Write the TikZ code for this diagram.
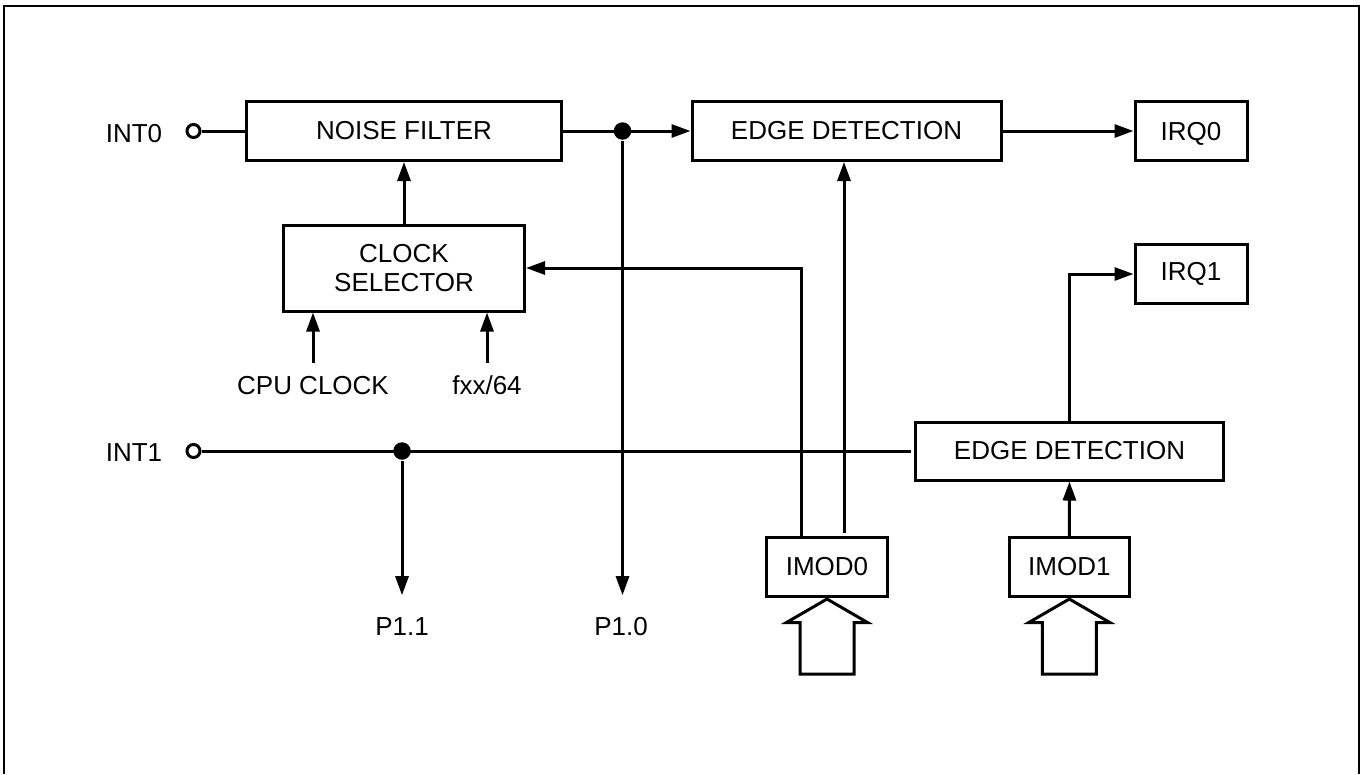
\documentclass[tikz,border=0pt]{standalone}
\usepackage{fontspec}
\setmainfont{Liberation Sans}
\usetikzlibrary{arrows.meta, calc}

\begin{document}
\begin{tikzpicture}[
    x=1pt, y=-1pt, line width=3pt,
    every node/.style={font=\fontsize{26}{29}\selectfont},
    box/.style={draw, minimum width=#1, minimum height=59pt, inner sep=0pt, align=center},
    term/.style={draw, circle, minimum size=13pt, inner sep=0pt, fill=white},
    junct/.style={circle, fill, minimum size=17.5pt, inner sep=0pt},
    arr/.style={-{Triangle[length=19pt, width=13pt]}},
    lbl/.style={text height=18.6pt, text depth=0pt, inner sep=#1},
    lbl/.default=0pt,
    frame/.style={line width=2pt}
  ]
  \useasboundingbox (0,0) rectangle (1362,774);
  \draw[frame] (4,774) |- (1359,6) -- (1359,774);
  % blocks
  \node[box=314.5pt] (noise) at (404,131) {NOISE FILTER};
  \node[box=309pt] (edge0) at (846.5,131) {EDGE DETECTION};
  \node[box=112pt, text depth=0pt] (irq0) at (1191,131) {IRQ0};
  \node[box=241pt, minimum height=86pt] (clock) at (404,268) {CLOCK\\SELECTOR};
  \node[box=112pt, minimum height=58.5pt] (irq1) at (1191,274) {IRQ1};
  \node[box=308pt, minimum height=58pt] (edge1) at (1069.5,451) {EDGE DETECTION};
  \node[box=121pt] (imod0) at (827,567) {IMOD0};
  \node[box=120pt] (imod1) at (1069.3,567) {IMOD1};
  % pins and junctions
  \node[term] (in0) at (193.5,131) {};
  \node[term] (in1) at (193.5,451) {};
  \node[junct] (dot0) at (622.5,131) {};
  \node[junct] (dot1) at (402,451) {};
  % labels
  \node[lbl] (int0) at (134,133) {INT0};
  \node[lbl] (int1) at (134,452) {INT1};
  \node[lbl=20pt] (p11) at (402,626) {P1.1};
  \node[lbl=20pt] (p10) at (621,626) {P1.0};
  \node[lbl=11.7pt] (cpu) at (313,385) {CPU CLOCK};
  \node[lbl=11.7pt] (fxx) at (487,385) {fxx/64};
  \coordinate (m0a) at ($(imod0.north)+(-26,0)$);
  \coordinate (m0b) at ($(imod0.north)+(17,-3)$);
  \coordinate (e1in) at ($(edge1.west)+(-3,0)$);
  % connections
  \draw (in0) -- (noise);
  \draw[arr] (noise) -- (edge0);
  \draw[arr] (edge0) -- (irq0);
  \draw[arr] (clock) -- (noise);
  \draw[arr] (cpu.north) -- (cpu.north |- clock.south);
  \draw[arr] (fxx.north) -- (fxx.north |- clock.south);
  \draw[arr] (dot0) -- (dot0 |- p10.north);
  \draw (in1) -- (e1in);
  \draw[arr] (dot1) -- (dot1 |- p11.north);
  \draw[arr] (m0a) |- (clock.east);
  \draw[arr] (m0b) -- (m0b |- edge0.south);
  \draw[arr] (edge1.north) |- (irq1.west);
  \draw[arr] (imod1) -- (edge1);
  % hollow input arrows
  \foreach \m in {imod0, imod1}
    \draw[line join=miter] ($(\m.south)+(0,1)$) -- ++(40.5,23.5) -- ++(-13.5,0) -- ++(0,51.5)
      -- ++(-54,0) -- ++(0,-51.5) -- ++(-13.5,0) -- cycle;
\end{tikzpicture}
\end{document}
